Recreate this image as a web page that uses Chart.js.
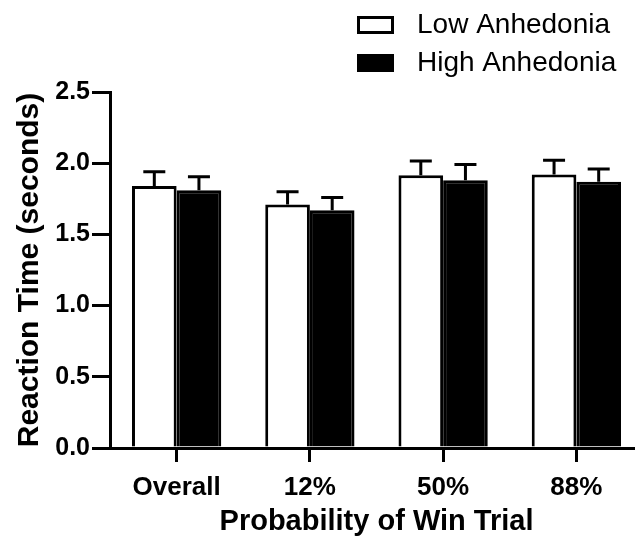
<!DOCTYPE html>
<html><head><meta charset="utf-8">
<script src="https://cdn.jsdelivr.net/npm/chart.js@4.4.0/dist/chart.umd.min.js"></script>
<style>
html,body{margin:0;padding:0;overflow:hidden;background:#fff;width:635px;height:541px}
#wrap{width:645px;height:541px;position:relative}
</style>
</head><body><div id="wrap"><canvas id="c" width="645" height="541"></canvas></div>
<script>
const categories = ['Overall', '12%', '50%', '88%'];
const seriesNames = ['Low Anhedonia', 'High Anhedonia'];
const lowMeans = [1.84, 1.71, 1.915, 1.92];
const lowErr = [0.10, 0.09, 0.10, 0.10];
const highMeans = [1.81, 1.67, 1.88, 1.87];
const highErr = [0.095, 0.09, 0.11, 0.09];
const yMin = 0, yMax = 2.5, yStep = 0.5;
const xTitle = 'Probability of Win Trial';
const yTitle = 'Reaction Time (seconds)';

const FONT = '"Liberation Sans", Arial, Helvetica, sans-serif';

const errorBars = {
  id: 'errorBars',
  afterDatasetsDraw(chart) {
    const ctx = chart.ctx;
    const ys = chart.scales.y;
    chart.data.datasets.forEach((ds, i) => {
      const meta = chart.getDatasetMeta(i);
      meta.data.forEach((el, j) => {
        const top = ys.getPixelForValue(ds.data[j] + ds.errors[j]);
        ctx.save();
        ctx.strokeStyle = '#000';
        ctx.lineWidth = 3;
        ctx.beginPath();
        ctx.moveTo(el.x, el.y);
        ctx.lineTo(el.x, top);
        ctx.moveTo(el.x - 11, top);
        ctx.lineTo(el.x + 11, top);
        ctx.stroke();
        ctx.restore();
      });
    });
  }
};

const customLegend = {
  id: 'customLegend',
  afterDraw(chart) {
    const ctx = chart.ctx;
    const rows = [25, 63];
    chart.data.datasets.forEach((ds, i) => {
      const cy = rows[i];
      ctx.save();
      ctx.fillStyle = ds.backgroundColor;
      ctx.fillRect(357, cy - 9, 37, 18);
      ctx.strokeStyle = '#000';
      ctx.lineWidth = 3;
      ctx.strokeRect(358.5, cy - 7.5, 34, 15);
      ctx.fillStyle = '#000';
      ctx.font = '28px ' + FONT;
      ctx.textBaseline = 'middle';
      ctx.textAlign = 'left';
      ctx.fillText(ds.label, 417, cy);
      ctx.restore();
    });
  }
};

new Chart(document.getElementById('c'), {
  type: 'bar',
  data: {
    labels: categories,
    datasets: [
      { label: seriesNames[0], data: lowMeans, errors: lowErr, backgroundColor: '#ffffff', borderColor: '#000000', borderWidth: 3, borderSkipped: 'bottom' },
      { label: seriesNames[1], data: highMeans, errors: highErr, backgroundColor: '#000000', borderColor: '#000000', borderWidth: 3, borderSkipped: 'bottom' }
    ]
  },
  options: {
    responsive: false,
    animation: false,
    devicePixelRatio: 1,
    layout: { padding: { top: 92, right: 2, bottom: 0, left: 0 } },
    datasets: { bar: { barPercentage: 1.0, categoryPercentage: 0.67 } },
    plugins: { legend: { display: false }, tooltip: { enabled: false } },
    scales: {
      x: {
        type: 'category',
        offset: true,
        grid: { display: true, offset: false, drawOnChartArea: false, drawTicks: true, tickLength: 14, lineWidth: 3, color: '#000' },
        border: { display: true, width: 3, color: '#000' },
        ticks: { color: '#000', font: { family: FONT, size: 26, weight: 'bold' }, padding: 10, maxRotation: 0 },
        title: { display: true, text: xTitle, color: '#000', font: { family: FONT, size: 29, weight: 'bold' }, padding: { top: 0, bottom: 2 } },
        afterFit(s) { s.height = 93; }
      },
      y: {
        min: yMin, max: yMax,
        grid: { display: true, drawOnChartArea: false, drawTicks: true, tickLength: 18, lineWidth: 3, color: '#000' },
        border: { display: true, width: 3, color: '#000' },
        ticks: { stepSize: yStep, color: '#000', font: { family: FONT, size: 25, weight: 'bold' }, padding: 2, callback: v => Number(v).toFixed(1) },
        title: { display: true, text: yTitle, color: '#000', font: { family: FONT, size: 30, weight: 'bold' }, padding: { top: 12, bottom: 0 } },
        afterFit(s) { s.width = 110; }
      }
    }
  },
  plugins: [errorBars, customLegend]
});
</script>
</body></html>
